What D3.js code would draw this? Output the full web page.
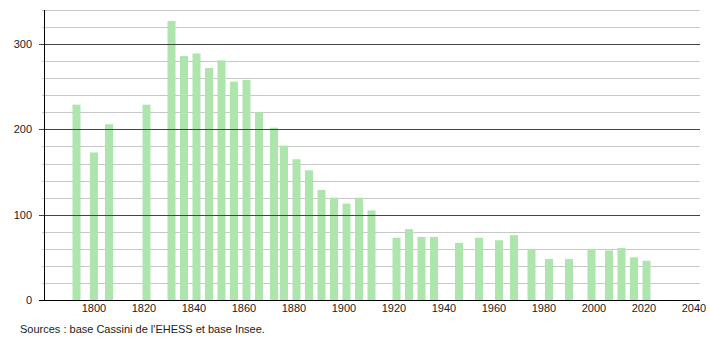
<!DOCTYPE html>
<meta charset="utf-8">
<style>
  body { margin: 0; background: #fff; }
  text { font-family: "Liberation Sans", Arial, sans-serif; fill: #222; }
</style>
<svg width="710" height="340"></svg>
<script src="https://cdn.jsdelivr.net/npm/d3@7"></script>
<script>
    // années de recensement et population
    var years = [1793, 1800, 1806, 1821, 1831, 1836, 1841, 1846, 1851, 1856,
        1861, 1866, 1872, 1876, 1881, 1886, 1891, 1896, 1901, 1906,
        1911, 1921, 1926, 1931, 1936, 1946, 1954, 1962, 1968, 1975,
        1982, 1990, 1999, 2006, 2011, 2016, 2021];
    var population = [229, 173, 206, 229, 327, 286, 289, 272, 281, 256,
        258, 220, 202, 181, 165, 152, 129, 120, 113, 120,
        105, 73, 83, 74, 74, 67, 73, 70, 76, 60,
        48, 48, 60, 58, 61, 50, 46];
    var xTicks = [1800, 1820, 1840, 1860, 1880, 1900, 1920, 1940, 1960, 1980, 2000, 2020, 2040];
    var yMajor = [0, 100, 200, 300];
    var source = "Sources : base Cassini de l'EHESS et base Insee.";

    var svg = d3.select('svg');
    var pl = 44, pr = 700, pt = 10, pb = 300;

    var x = d3.scaleLinear().domain([1780, 2042.4]).range([pl, pr]);
    var y = d3.scaleLinear().domain([0, 340]).range([pb, pt]);

    // grille secondaire tous les 20
    var minor = d3.range(20, 341, 20).filter(function (v) { return v % 100 !== 0; });
    svg.append('g').selectAll('line')
        .data(minor)
        .enter().append('line')
        .attr('x1', pl - 2).attr('x2', pr)
        .attr('y1', function (d) { return Math.round(y(d)) + 0.5; })
        .attr('y2', function (d) { return Math.round(y(d)) + 0.5; })
        .attr('stroke', '#c8c8c8');

    // barres
    var data = years.map(function (yr, i) { return { year: yr, value: population[i] }; });
    svg.append('g').selectAll('rect')
        .data(data)
        .enter().append('rect')
        .attr('x', function (d) { return x(d.year) - 4; })
        .attr('width', 8)
        .attr('y', function (d) { return y(d.value); })
        .attr('height', function (d) { return pb - y(d.value); })
        .attr('fill', '#ade5ad');

    // grille principale
    svg.append('g').selectAll('line')
        .data(yMajor.slice(1))
        .enter().append('line')
        .attr('x1', pl - 5).attr('x2', pr)
        .attr('y1', function (d) { return Math.round(y(d)) + 0.5; })
        .attr('y2', function (d) { return Math.round(y(d)) + 0.5; })
        .attr('stroke', '#444');

    // axes
    svg.append('line')
        .attr('x1', pl + 0.5).attr('x2', pl + 0.5)
        .attr('y1', pt).attr('y2', pb)
        .attr('stroke', '#000');
    svg.append('line')
        .attr('x1', pl - 5).attr('x2', pr)
        .attr('y1', pb + 0.5).attr('y2', pb + 0.5)
        .attr('stroke', '#000');

    svg.append('g').selectAll('text')
        .data(yMajor)
        .enter().append('text')
        .attr('x', 32)
        .attr('y', function (d) { return y(d) + 4; })
        .attr('text-anchor', 'end')
        .attr('font-size', 11)
        .text(function (d) { return d; });

    // axe x (étiquettes seulement)
    svg.append('g').selectAll('text')
        .data(xTicks)
        .enter().append('text')
        .attr('x', function (d) { return x(d); })
        .attr('y', 312)
        .attr('text-anchor', 'middle')
        .attr('font-size', 11)
        .text(function (d) { return d; });

    svg.append('text')
        .attr('x', 20)
        .attr('y', 333)
        .attr('font-size', 11)
        .text(source);
</script>
